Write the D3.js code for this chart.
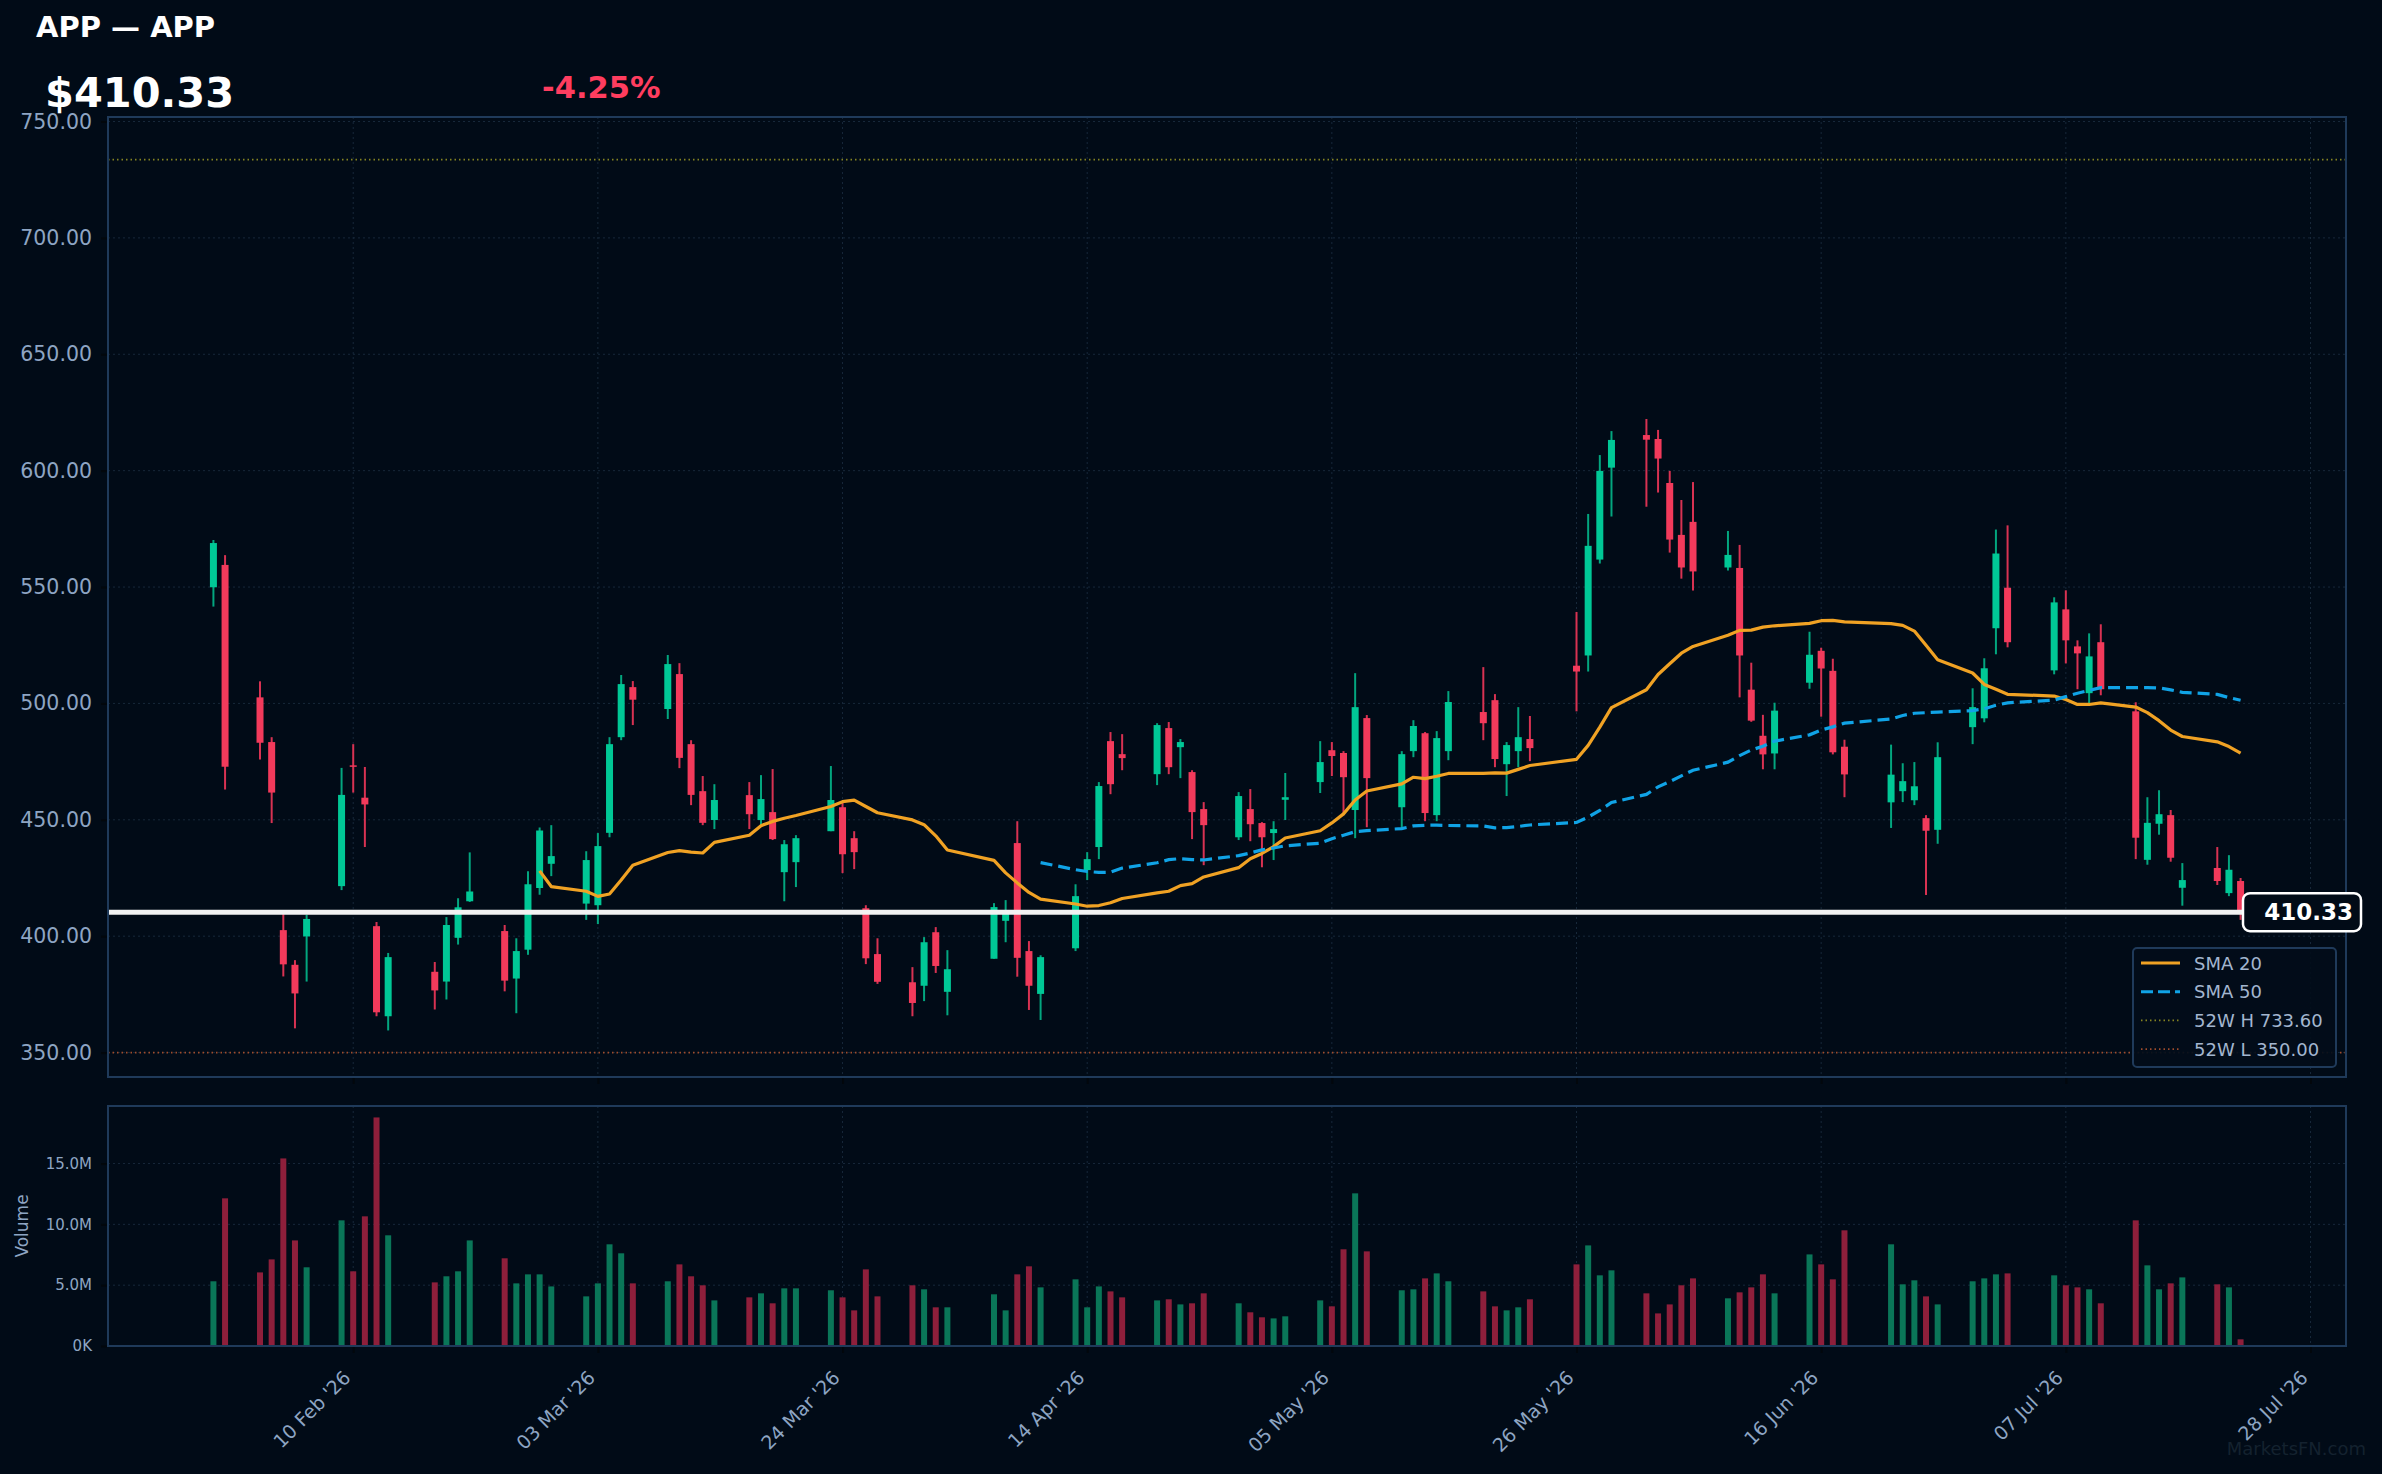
<!DOCTYPE html>
<html lang="en">
<head>
<meta charset="UTF-8">
<title>APP — APP</title>
<script src="https://cdn.jsdelivr.net/npm/d3@7.8.5/dist/d3.min.js"></script>
<style>
    html, body { margin: 0; padding: 0; background: #010b17; overflow: hidden; }
    svg { display: block; font-family: "DejaVu Sans", sans-serif; }
</style>
</head>
<body>
<div id="chart"></div>
<script type="text/javascript">
    // daily bars
    const dates = ["2026-01-29","2026-01-30",
        "2026-02-02","2026-02-03","2026-02-04","2026-02-05","2026-02-06",
        "2026-02-09","2026-02-10","2026-02-11","2026-02-12","2026-02-13",
        "2026-02-17","2026-02-18","2026-02-19","2026-02-20",
        "2026-02-23","2026-02-24","2026-02-25","2026-02-26","2026-02-27",
        "2026-03-02","2026-03-03","2026-03-04","2026-03-05","2026-03-06",
        "2026-03-09","2026-03-10","2026-03-11","2026-03-12","2026-03-13",
        "2026-03-16","2026-03-17","2026-03-18","2026-03-19","2026-03-20",
        "2026-03-23","2026-03-24","2026-03-25","2026-03-26","2026-03-27",
        "2026-03-30","2026-03-31","2026-04-01","2026-04-02",
        "2026-04-06","2026-04-07","2026-04-08","2026-04-09","2026-04-10",
        "2026-04-13","2026-04-14","2026-04-15","2026-04-16","2026-04-17",
        "2026-04-20","2026-04-21","2026-04-22","2026-04-23","2026-04-24",
        "2026-04-27","2026-04-28","2026-04-29","2026-04-30","2026-05-01",
        "2026-05-04","2026-05-05","2026-05-06","2026-05-07","2026-05-08",
        "2026-05-11","2026-05-12","2026-05-13","2026-05-14","2026-05-15",
        "2026-05-18","2026-05-19","2026-05-20","2026-05-21","2026-05-22",
        "2026-05-26","2026-05-27","2026-05-28","2026-05-29",
        "2026-06-01","2026-06-02","2026-06-03","2026-06-04","2026-06-05",
        "2026-06-08","2026-06-09","2026-06-10","2026-06-11","2026-06-12",
        "2026-06-15","2026-06-16","2026-06-17","2026-06-18",
        "2026-06-22","2026-06-23","2026-06-24","2026-06-25","2026-06-26",
        "2026-06-29","2026-06-30","2026-07-01","2026-07-02",
        "2026-07-06","2026-07-07","2026-07-08","2026-07-09","2026-07-10",
        "2026-07-13","2026-07-14","2026-07-15","2026-07-16","2026-07-17",
        "2026-07-20","2026-07-21","2026-07-22"];

    const opens = [549.9,559.5,
        502.6,483.4,402.6,387.7,399.9,
        421.5,473.4,459.5,404.3,365.6,
        384.7,380.5,399.3,415.0,
        402.2,381.8,394.2,420.7,431.1,
        414.0,413.3,444.4,485.5,507.0,
        497.6,512.6,482.5,462.3,449.9,
        460.6,449.9,453.3,427.5,431.8,
        445.1,455.4,442.1,412.0,392.3,
        380.2,378.7,401.7,376.1,
        390.3,406.6,440.0,393.6,375.2,
        394.8,428.4,438.3,483.8,478.2,
        469.6,489.4,481.2,470.5,454.6,
        442.5,454.6,448.6,444.3,458.6,
        466.2,479.9,478.7,454.2,493.7,
        455.4,479.5,487.2,452.0,479.5,
        496.3,501.4,473.9,479.5,484.7,
        516.2,520.6,561.8,601.3,
        615.3,613.6,594.7,572.4,578.0,
        558.4,558.2,505.9,486.1,478.5,
        508.9,522.6,514.0,481.4,
        457.5,462.3,458.4,450.7,445.7,
        489.8,493.6,532.3,549.7,
        514.2,540.4,524.5,504.4,526.3,
        496.6,432.8,448.3,452.0,420.8,
        429.3,418.5,423.7];

    const highs = [570.2,563.7,
        509.5,485.5,409.5,389.7,409.2,
        472.3,482.5,472.7,406.1,392.8,
        388.9,408.2,416.3,436.0,
        404.8,399.1,427.9,446.7,447.7,
        436.5,444.3,485.5,512.2,509.6,
        520.8,517.3,484.2,468.8,465.3,
        466.2,469.2,471.8,441.3,443.4,
        473.1,457.6,445.1,413.3,399.1,
        386.7,399.6,403.9,394.0,
        414.2,415.5,449.4,397.9,391.8,
        422.3,436.1,466.2,487.7,486.8,
        491.5,492.0,484.7,471.3,457.6,
        461.9,463.2,449.0,449.4,470.1,
        483.8,483.4,479.5,513.0,495.0,
        479.5,492.8,487.7,488.1,505.3,
        515.6,504.0,483.4,498.4,494.6,
        539.3,581.4,606.7,617.0,
        622.2,617.5,599.9,587.4,595.1,
        574.1,568.1,517.5,495.1,500.3,
        530.8,523.9,519.2,484.4,
        482.3,474.3,474.8,452.0,483.3,
        506.5,519.4,574.7,576.5,
        545.6,548.6,527.1,530.1,534.0,
        500.5,459.7,462.7,454.2,431.4,
        438.3,434.8,425.0];

    const lows = [541.6,463.0,
        475.9,448.6,382.7,360.4,380.5,
        419.8,461.7,438.3,365.6,359.5,
        368.5,372.8,396.4,414.7,
        376.3,366.9,392.0,417.8,425.8,
        407.0,405.2,442.5,484.2,490.7,
        493.3,472.2,456.3,447.7,446.0,
        446.0,447.7,441.3,415.0,421.1,
        445.1,427.1,428.8,388.0,379.5,
        365.6,372.1,384.2,366.0,
        390.3,397.4,382.6,368.3,364.0,
        393.6,424.1,433.1,461.0,471.3,
        464.9,469.6,467.9,441.7,430.5,
        441.3,440.8,429.6,432.7,449.9,
        461.5,468.8,452.0,442.1,446.8,
        446.4,476.9,449.4,449.4,475.6,
        484.2,472.6,460.2,472.6,475.2,
        496.6,513.7,560.1,580.3,
        584.5,590.6,564.8,553.6,548.5,
        557.1,502.6,492.1,471.7,471.7,
        506.3,494.3,478.1,459.7,
        446.5,457.6,456.3,417.7,439.7,
        482.5,491.9,521.1,524.1,
        512.5,517.2,506.1,500.1,503.5,
        433.1,430.7,443.6,432.0,413.1,
        422.0,417.2,407.0];

    const closes = [568.9,472.8,
        483.1,461.7,387.9,375.4,407.4,
        460.7,472.8,456.6,367.3,391.0,
        376.7,404.8,412.4,419.2,
        380.9,393.6,422.3,445.4,434.4,
        432.7,438.7,482.5,508.3,501.6,
        516.9,476.6,460.7,448.7,458.5,
        452.4,458.9,441.7,439.5,442.1,
        458.5,435.2,436.1,390.5,380.4,
        371.3,397.4,387.2,385.8,
        412.5,409.7,390.7,378.7,391.0,
        417.2,433.1,464.5,465.3,476.5,
        490.7,472.6,483.4,453.3,447.7,
        460.2,448.1,442.5,446.0,459.7,
        474.8,477.4,468.3,498.4,467.9,
        478.2,490.3,452.9,485.1,500.6,
        491.5,476.1,482.1,485.5,480.8,
        513.7,567.7,599.9,613.2,
        613.3,605.2,570.4,558.4,556.7,
        563.8,520.6,492.6,478.1,496.9,
        520.9,515.0,479.0,469.5,
        469.4,466.6,464.4,445.3,476.9,
        498.4,515.1,564.4,526.3,
        543.4,527.1,521.5,520.2,506.1,
        442.3,448.7,452.4,433.7,424.1,
        423.7,428.54,410.33];

    // volume in millions of shares
    const volumes = [5.32,12.14,
        6.05,7.12,15.42,8.68,6.47,
        10.33,6.14,10.66,18.79,9.10,
        5.23,5.73,6.14,8.68,
        7.21,5.15,5.89,5.89,4.90,
        4.08,5.15,8.36,7.62,5.15,
        5.32,6.71,5.73,4.99,3.75,
        4.00,4.33,3.51,4.74,4.74,
        4.58,4.00,2.93,6.30,4.08,
        4.99,4.66,3.18,3.18,
        4.25,2.93,5.89,6.55,4.82,
        5.48,3.18,4.90,4.49,4.00,
        3.75,3.84,3.42,3.51,4.33,
        3.51,2.77,2.36,2.27,2.44,
        3.75,3.26,7.95,12.55,7.78,
        4.58,4.66,5.56,5.97,5.32,
        4.49,3.26,2.93,3.18,3.84,
        6.71,8.27,5.81,6.22,
        4.33,2.68,3.42,4.99,5.56,
        3.92,4.41,4.82,5.89,4.33,
        7.53,6.71,5.48,9.51,
        8.36,5.07,5.40,4.08,3.42,
        5.32,5.56,5.89,5.97,
        5.81,4.99,4.82,4.66,3.51,
        10.33,6.63,4.66,5.15,5.64,
        5.07,4.82,0.55];

    const ticker = "APP";
    const high52 = 733.60;
    const low52 = 350.00;
    const changePct = -4.25;

    const priceTicks = [350, 400, 450, 500, 550, 600, 650, 700, 750];
    const volumeTicks = [0, 5, 10, 15];
    const dateTicks = ["2026-02-10","2026-03-03","2026-03-24","2026-04-14","2026-05-05",
        "2026-05-26","2026-06-16","2026-07-07","2026-07-28"];

    const width = 2382, height = 1474;
    const main = {left: 108, right: 2346, top: 117, bottom: 1077};
    const vol = {top: 1106, bottom: 1346};

    const up = "#00c896", upWick = "#03a67f";
    const down = "#f23a5b", downWick = "#d83252";
    const upVol = "#0a7658", downVol = "#8e1f3b";
    const axisText = "#8ea5c3";
    const borderCol = "#1f3a5a";
    const gridCol = "#17283a";

    const parse = d3.utcParse("%Y-%m-%d");
    const bars = dates.map((d, i) => ({
        date: parse(d), o: opens[i], h: highs[i], l: lows[i], c: closes[i], v: volumes[i]
    }));

    function sma(values, n) {
        return values.map((v, i) => i < n - 1 ? null : d3.mean(values.slice(i - n + 1, i + 1)));
    }
    const sma20 = sma(closes, 20);
    const sma50 = sma(closes, 50);

    //Scales
    const first = bars[0].date, last = bars[bars.length - 1].date;
    const pad = (last - first) * 0.052;
    const xScale = d3.scaleUtc()
        .domain([new Date(+first - pad), new Date(+last + pad)])
        .range([main.left, main.right]);

    const yScale = d3.scaleLinear()
        .domain([low52 * 0.97, high52 * 1.025])
        .range([main.bottom, main.top]);

    const vScale = d3.scaleLinear()
        .domain([0, d3.max(volumes) * 1.05])
        .range([vol.bottom, vol.top]);

    const svg = d3.select('#chart')
        .append('svg')
        .attr('width', width)
        .attr('height', height);

    svg.append('rect').attr('width', width).attr('height', height).attr('fill', '#010b17');

    // grid
    const grid = svg.append('g')
        .attr('stroke', gridCol).attr('stroke-width', 1).attr('stroke-dasharray', '2,3');
    grid.selectAll('.hg').data(priceTicks).join('line')
        .attr('x1', main.left).attr('x2', main.right)
        .attr('y1', d => yScale(d)).attr('y2', d => yScale(d));
    grid.selectAll('.vg').data(volumeTicks.slice(1)).join('line')
        .attr('x1', main.left).attr('x2', main.right)
        .attr('y1', d => vScale(d)).attr('y2', d => vScale(d));
    dateTicks.forEach(t => {
        const x = xScale(parse(t));
        grid.append('line').attr('x1', x).attr('x2', x).attr('y1', main.top).attr('y2', main.bottom);
        grid.append('line').attr('x1', x).attr('x2', x).attr('y1', vol.top).attr('y2', vol.bottom);
    });

    // 52 week lines
    svg.append('line')
        .attr('x1', main.left).attr('x2', main.right)
        .attr('y1', yScale(high52)).attr('y2', yScale(high52))
        .attr('stroke', '#858322').attr('stroke-width', 1.7).attr('stroke-dasharray', '1.5,3');
    svg.append('line')
        .attr('x1', main.left).attr('x2', main.right)
        .attr('y1', yScale(low52)).attr('y2', yScale(low52))
        .attr('stroke', '#a04c2c').attr('stroke-width', 1.7).attr('stroke-dasharray', '1.5,3');

    // candles
    const candles = svg.append('g').selectAll('g').data(bars).join('g');
    candles.append('line')
        .attr('x1', d => xScale(d.date)).attr('x2', d => xScale(d.date))
        .attr('y1', d => yScale(d.h)).attr('y2', d => yScale(d.l))
        .attr('stroke', d => d.c >= d.o ? upWick : downWick)
        .attr('stroke-width', 2);
    candles.append('rect')
        .attr('x', d => xScale(d.date) - 3.5)
        .attr('width', 7)
        .attr('y', d => yScale(Math.max(d.o, d.c)))
        .attr('height', d => Math.max(1.5, Math.abs(yScale(d.o) - yScale(d.c))))
        .attr('fill', d => d.c >= d.o ? up : down);

    // moving averages
    const maLine = d3.line()
        .defined(d => d[1] != null)
        .x(d => xScale(d[0]))
        .y(d => yScale(d[1]));
    svg.append('path')
        .attr('d', maLine(bars.map((b, i) => [b.date, sma20[i]])))
        .attr('fill', 'none').attr('stroke', '#f0a224').attr('stroke-width', 3.2)
        .attr('stroke-linejoin', 'round');
    svg.append('path')
        .attr('d', maLine(bars.map((b, i) => [b.date, sma50[i]])))
        .attr('fill', 'none').attr('stroke', '#10a3e6').attr('stroke-width', 3.2)
        .attr('stroke-dasharray', '12,6');

    // volume bars
    svg.append('g').selectAll('rect').data(bars).join('rect')
        .attr('x', d => xScale(d.date) - 3)
        .attr('width', 6)
        .attr('y', d => vScale(d.v))
        .attr('height', d => vScale(0) - vScale(d.v))
        .attr('fill', d => d.c >= d.o ? upVol : downVol);

    // frames
    svg.append('rect')
        .attr('x', main.left).attr('y', main.top)
        .attr('width', main.right - main.left).attr('height', main.bottom - main.top)
        .attr('fill', 'none').attr('stroke', borderCol).attr('stroke-width', 2);
    svg.append('rect')
        .attr('x', main.left).attr('y', vol.top)
        .attr('width', main.right - main.left).attr('height', vol.bottom - vol.top)
        .attr('fill', 'none').attr('stroke', borderCol).attr('stroke-width', 2);

    // axes
    const yAxis = d3.axisLeft(yScale).tickValues(priceTicks).tickFormat(d => d.toFixed(2))
        .tickSize(6).tickPadding(9);
    const gy = svg.append('g').attr('transform', `translate(${main.left - 1},0)`).call(yAxis);
    const vAxis = d3.axisLeft(vScale).tickValues(volumeTicks)
        .tickFormat(d => d === 0 ? "0K" : d.toFixed(1) + "M")
        .tickSize(6).tickPadding(9);
    const gv = svg.append('g').attr('transform', `translate(${main.left - 1},0)`).call(vAxis);
    const xAxis = d3.axisBottom(xScale).tickValues(dateTicks.map(parse))
        .tickFormat(d3.utcFormat("%d %b '%y")).tickSize(6);
    const gx = svg.append('g').attr('transform', `translate(0,${vol.bottom + 1})`).call(xAxis);
    const gx2 = svg.append('g').attr('transform', `translate(0,${main.bottom + 1})`)
        .call(xAxis.tickFormat(''));

    [gy, gv, gx, gx2].forEach(g => {
        g.select('.domain').remove();
        g.selectAll('.tick line').attr('stroke', '#02070c').attr('stroke-width', 2);
        g.selectAll('text').attr('fill', axisText).attr('font-family', '"DejaVu Sans", sans-serif');
    });
    gy.selectAll('text').attr('font-size', 20.5);
    gv.selectAll('text').attr('font-size', 15);
    gx.selectAll('text')
        .attr('font-size', 19)
        .attr('text-anchor', 'end')
        .attr('dy', null).attr('y', 0)
        .attr('transform', 'translate(-2,32) rotate(-45)');

    svg.append('text')
        .attr('transform', `translate(28,${(vol.top + vol.bottom) / 2}) rotate(-90)`)
        .attr('text-anchor', 'middle')
        .attr('font-size', 17).attr('fill', axisText)
        .text('Volume');

    // last price line and tag
    const lastClose = closes[closes.length - 1];
    const py = yScale(lastClose);
    svg.append('line')
        .attr('x1', main.left + 1).attr('x2', main.right)
        .attr('y1', py).attr('y2', py)
        .attr('stroke', '#f2f2f2').attr('stroke-width', 5);
    svg.append('rect')
        .attr('x', 2243).attr('y', py - 19).attr('width', 118).attr('height', 38)
        .attr('rx', 7)
        .attr('fill', '#010b17').attr('stroke', '#ffffff').attr('stroke-width', 2.5);
    svg.append('text')
        .attr('x', 2353).attr('y', py + 8)
        .attr('text-anchor', 'end')
        .attr('font-size', 23).attr('font-weight', 'bold').attr('fill', '#ffffff')
        .text(lastClose.toFixed(2));

    // legend
    const legendItems = [
        {label: "SMA 20", color: "#f0a224", dash: null, w: 3},
        {label: "SMA 50", color: "#10a3e6", dash: "12,5", w: 3},
        {label: "52W H " + high52.toFixed(2), color: "#858322", dash: "1.5,3", w: 1.7},
        {label: "52W L " + low52.toFixed(2), color: "#a04c2c", dash: "1.5,3", w: 1.7}
    ];
    const lg = svg.append('g').attr('transform', 'translate(2133,948)');
    lg.append('rect')
        .attr('width', 203).attr('height', 119).attr('rx', 4)
        .attr('fill', '#020d1a').attr('fill-opacity', 0.92)
        .attr('stroke', borderCol).attr('stroke-width', 2);
    const li = lg.selectAll('g').data(legendItems).join('g')
        .attr('transform', (d, i) => `translate(0,${15 + i * 28.7})`);
    li.append('line')
        .attr('x1', 8).attr('x2', 47).attr('y1', 0).attr('y2', 0)
        .attr('stroke', d => d.color).attr('stroke-width', d => d.w)
        .attr('stroke-dasharray', d => d.dash);
    li.append('text')
        .attr('x', 61).attr('y', 6.5)
        .attr('font-size', 18).attr('fill', '#a3b6cf')
        .text(d => d.label);

    // header
    svg.append('text')
        .attr('x', 36).attr('y', 37)
        .attr('font-size', 29).attr('font-weight', 'bold').attr('fill', '#ffffff')
        .text(`${ticker} — ${ticker}`);
    svg.append('text')
        .attr('x', 45).attr('y', 107)
        .attr('font-size', 41.5).attr('font-weight', 'bold').attr('fill', '#ffffff')
        .text('$' + lastClose.toFixed(2));
    svg.append('text')
        .attr('x', 542).attr('y', 98)
        .attr('font-size', 30.5).attr('font-weight', 'bold').attr('fill', '#ff3d5f')
        .text(changePct.toFixed(2) + '%');

    svg.append('text')
        .attr('x', 2366).attr('y', 1455)
        .attr('text-anchor', 'end')
        .attr('font-size', 18).attr('fill', '#14222f')
        .text('MarketsFN.com');
</script>
</body>
</html>
